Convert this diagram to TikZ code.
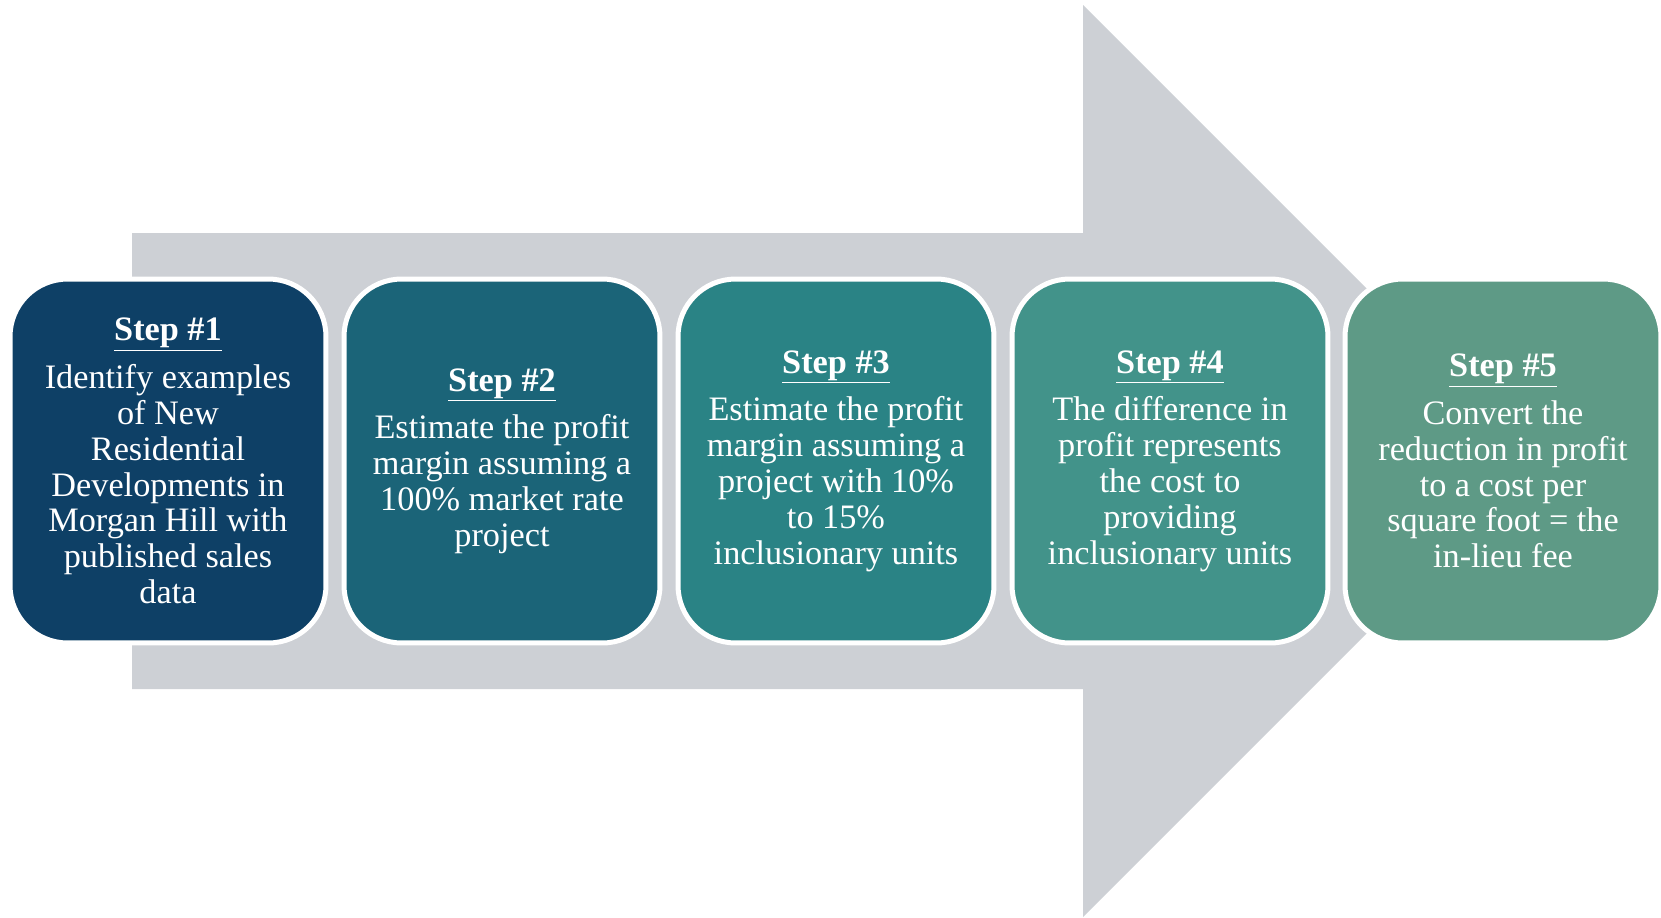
\documentclass[tikz,border=0pt]{standalone}
\usepackage{fontspec}
\setmainfont{Liberation Serif}
\usepackage{xcolor}
\definecolor{arrowgray}{HTML}{CDD0D5}
\definecolor{stepA}{HTML}{0E4066}
\definecolor{stepB}{HTML}{1B6478}
\definecolor{stepC}{HTML}{2A8385}
\definecolor{stepD}{HTML}{42938A}
\definecolor{stepE}{HTML}{5E9A86}

\begin{document}
\begin{tikzpicture}[x=0.02cm, y=-0.02cm]
		\tikzset{stepbox/.style = {shape=rectangle, rounded corners=1.15cm, draw=white, line width=0.1cm,
			text=white, align=center, inner sep=0pt, minimum width=6.32cm, minimum height=7.28cm,
			font=\fontsize{19.5}{20.4}\selectfont}}

		\useasboundingbox (0,0) rectangle (1661,917);

		% grey arrow behind the steps
		\fill[arrowgray] (132,233) -- (1083,233) -- (1083,5) -- (1539,461)
			-- (1083,917) -- (1083,689) -- (132,689) -- cycle;

		\node[stepbox, fill=stepA] (S1) at (168,461) {\textbf{\underline{Step \#1}}\\[0.24cm]
			Identify examples\\ of New\\ Residential\\ Developments in\\ Morgan Hill with\\ published sales\\ data};
		\node[stepbox, fill=stepB] (S2) at (502,461) {\textbf{\underline{Step \#2}}\\[0.24cm]
			Estimate the profit\\ margin assuming a\\ 100\% market rate\\ project};
		\node[stepbox, fill=stepC] (S3) at (836,461) {\textbf{\underline{Step \#3}}\\[0.24cm]
			Estimate the profit\\ margin assuming a\\ project with 10\%\\ to 15\%\\ inclusionary units};
		\node[stepbox, fill=stepD] (S4) at (1170,461) {\textbf{\underline{Step \#4}}\\[0.24cm]
			The difference in\\ profit represents\\ the cost to\\ providing\\ inclusionary units};
		\node[stepbox, fill=stepE] (S5) at (1503,461) {\textbf{\underline{Step \#5}}\\[0.24cm]
			Convert the\\ reduction in profit\\ to a cost per\\ square foot = the\\ in-lieu fee};

	\end{tikzpicture}
\end{document}
